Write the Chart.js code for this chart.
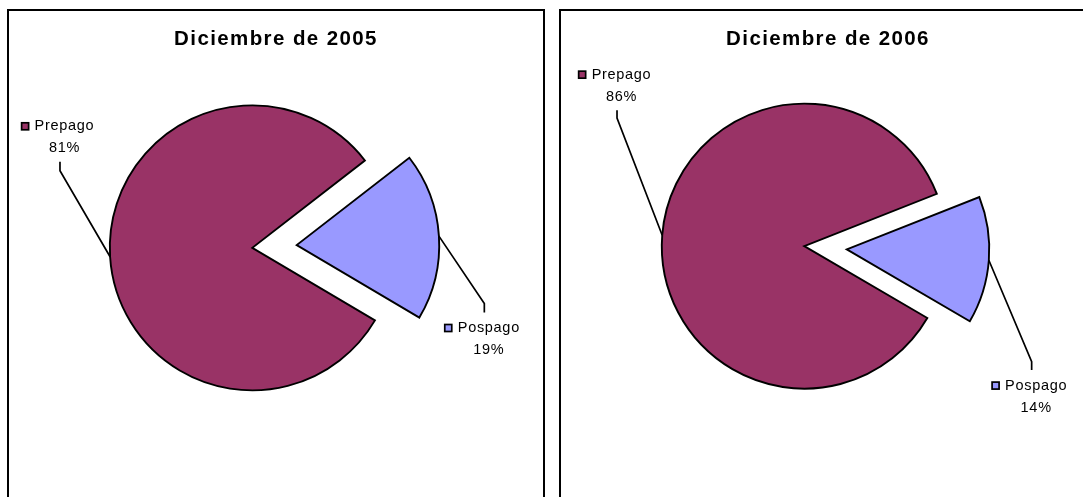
<!DOCTYPE html>
<html><head><meta charset="utf-8">
<script src="https://cdn.jsdelivr.net/npm/chart.js@4.4.1/dist/chart.umd.min.js"></script>
<style>
html,body{margin:0;padding:0;background:#fff;overflow:hidden;width:1083px;height:497px}
.panel{position:absolute;top:9px;width:534px;height:520px;border:2px solid #000;background:#fff}
#p1{left:7px}
#p2{left:559px}
canvas{position:absolute;left:0;top:0}
</style></head><body>
<div class="panel" id="p1"><canvas id="c1" width="534" height="486"></canvas></div>
<div class="panel" id="p2"><canvas id="c2" width="534" height="486"></canvas></div>
<script>
// ---- data ----
const categories = ['Prepago', 'Pospago'];
const values2005 = [81, 19];
const values2006 = [85.6, 14.4];
const titles = ['Diciembre de 2005', 'Diciembre de 2006'];
const sliceColors = ['#993366', '#9999FF'];

const FONT = "'Liberation Sans', Arial, Helvetica, sans-serif";

const excelPie = {
  id: 'excelPie',
  beforeDraw(chart) { chart.ctx.letterSpacing = '1.4px'; },
  afterLayout(chart, args, opts) {
    const a = chart.chartArea;
    a.right -= 2 * opts.shiftX;
    a.width = a.right - a.left;
  },
  beforeDatasetDraw(chart, args, opts) {
    const ctx = chart.ctx;
    ctx.letterSpacing = '0px';
    args.meta.data.forEach((arc, i) => {
      const p = arc.getProps(['startAngle', 'endAngle'], true);
      const m = (p.startAngle + p.endAngle) / 2;
      const e = opts.explode[i] || 0;
      ctx.save();
      ctx.translate(Math.cos(m) * e, Math.sin(m) * e);
      arc.draw(ctx);
      ctx.restore();
    });
    return false;
  },
  afterDatasetsDraw(chart, args, opts) {
    const ctx = chart.ctx;
    const meta = chart.getDatasetMeta(0);
    const data = chart.data.datasets[0].data;
    const total = data.reduce((s, v) => s + v, 0);
    ctx.save();
    ctx.letterSpacing = '0.7px';
    ctx.font = '14.5px ' + FONT;
    ctx.textBaseline = 'middle';
    ctx.textAlign = 'center';
    meta.data.forEach((arc, i) => {
      const p = arc.getProps(['x', 'y', 'startAngle', 'endAngle', 'outerRadius'], true);
      const m = (p.startAngle + p.endAngle) / 2;
      const e = opts.explode[i] || 0;
      const px = p.x + Math.cos(m) * (e + p.outerRadius);
      const py = p.y + Math.sin(m) * (e + p.outerRadius);
      const L = opts.leaders[i];
      const bx = px + L[0], by = py + L[1];
      const ex = bx, ey = by + L[2];
      ctx.beginPath();
      ctx.moveTo(px, py); ctx.lineTo(bx, by); ctx.lineTo(ex, ey);
      ctx.lineWidth = 1.7; ctx.strokeStyle = '#000'; ctx.lineJoin = 'miter';
      ctx.stroke();
      const below = L[2] > 0;
      const catY = below ? ey + 15.5 : ey - 13.5 - 22;
      const pctY = catY + 22;
      const cx = ex + 4.5;
      const name = chart.data.labels[i];
      const pct = Math.round(data[i] / total * 100) + '%';
      ctx.fillStyle = '#000';
      ctx.fillText(name, cx, catY);
      ctx.fillText(pct, cx, pctY);
      const w = ctx.measureText(name).width;
      const mx = cx - w / 2 - 9.5;
      ctx.fillStyle = sliceColors[i];
      ctx.fillRect(mx - 3.5, catY - 3.5, 7, 7);
      ctx.lineWidth = 1.7;
      ctx.strokeRect(mx - 3.5, catY - 3.5, 7, 7);
    });
    ctx.restore();
  }
};

function makePie(id, values, title, rotation, padBottom, explode, leaders) {
  return new Chart(document.getElementById(id), {
    type: 'pie',
    data: {
      labels: categories,
      datasets: [{
        data: values,
        backgroundColor: sliceColors,
        borderColor: '#000',
        borderWidth: 1.9,
        borderJoinStyle: 'miter',
        borderAlign: 'center'
      }]
    },
    options: {
      responsive: false,
      animation: false,
      rotation: rotation,
      radius: 142.5,
      layout: { padding: { top: 0, left: 0, right: 0, bottom: padBottom } },
      plugins: {
        legend: { display: false },
        tooltip: { enabled: false },
        title: {
          display: true,
          text: title,
          color: '#000',
          font: { family: FONT, size: 20.5, weight: 'bold', lineHeight: 1.2 },
          padding: { top: 15.7, bottom: 0 }
        },
        excelPie: { shiftX: 23.7, explode: explode, leaders: leaders }
      }
    },
    plugins: [excelPie]
  });
}

makePie('c1', values2005, titles[0], 120.6, 52.6, [0, 44.5],
  [[-50.1, -86, -9], [45.4, 67.4, 9]]);
makePie('c2', values2006, titles[1], 120.3, 56, [0, 42.6],
  [[-45.2, -117.1, -8], [42.8, 101.5, 8.3]]);
</script>
</body></html>
